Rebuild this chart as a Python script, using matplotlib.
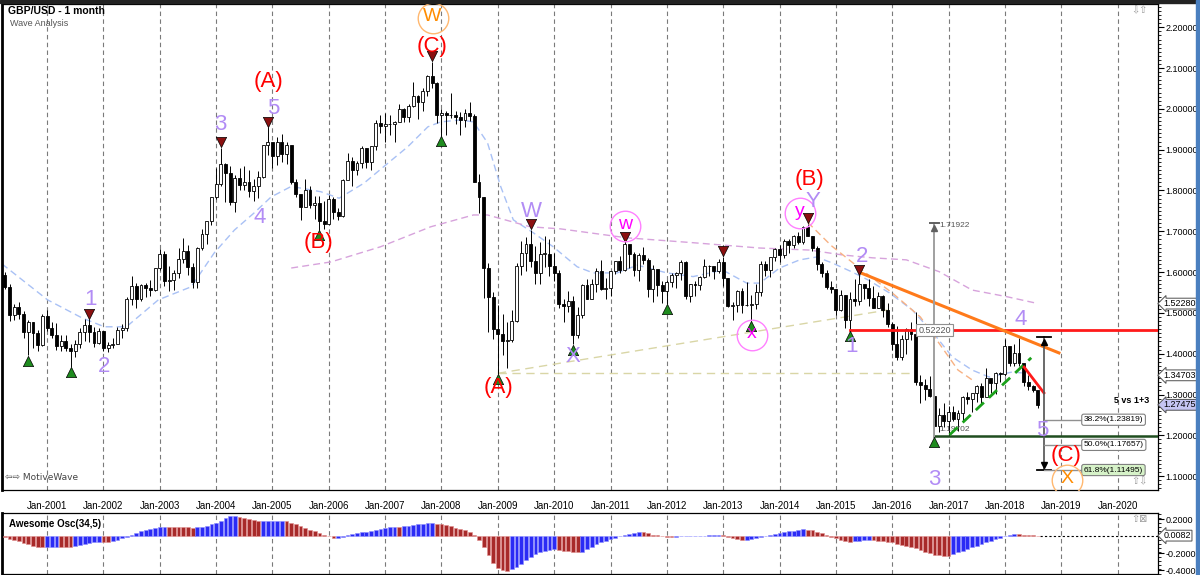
"""GBP/USD monthly wave analysis chart with Awesome Oscillator."""

import matplotlib as mpl
import numpy as np
from matplotlib import pyplot as plt
from matplotlib.patches import Rectangle

mpl.use("Agg")
plt.rcParams["font.family"] = ["Liberation Sans", "DejaVu Sans"]

# monthly candles, Apr-2000 .. Aug-2018 (open = previous close)
FIRST_OPEN = 1.5930
closes = [
    1.5640, 1.4960, 1.5150, 1.4970, 1.4530, 1.4780, 1.4510, 1.4210, 1.4930,
    1.4640, 1.4460, 1.4180, 1.4300, 1.4150, 1.4070, 1.4230, 1.4530, 1.4700, 1.4540, 1.4260, 1.4550,
    1.4130, 1.4220, 1.4240, 1.4580, 1.4640, 1.5350, 1.5670, 1.5350, 1.5690, 1.5620, 1.5560, 1.6100,
    1.6450, 1.5780, 1.5800, 1.5970, 1.6330, 1.6510, 1.6130, 1.5760, 1.6600, 1.6940, 1.7240, 1.7850,
    1.8170, 1.8640, 1.8440, 1.7720, 1.8310, 1.8140, 1.8200, 1.7990, 1.8100, 1.8340, 1.9110, 1.9180,
    1.8840, 1.9200, 1.8890, 1.9110, 1.8220, 1.7920, 1.7590, 1.8020, 1.7650, 1.7700, 1.7250, 1.7180,
    1.7790, 1.7480, 1.7370, 1.8250, 1.8730, 1.8490, 1.8680, 1.9040, 1.8710, 1.9090, 1.9660, 1.9580,
    1.9620, 1.9620, 1.9680, 1.9990, 1.9790, 2.0080, 2.0320, 2.0160, 2.0450, 2.0800, 2.0640, 1.9850,
    1.9890, 1.9860, 1.9840, 1.9810, 1.9730, 1.9910, 1.9830, 1.8220, 1.7840, 1.6110, 1.5390, 1.4600,
    1.4490, 1.4320, 1.4330, 1.4800, 1.6150, 1.6460, 1.6700, 1.6280, 1.5990, 1.6450, 1.6450, 1.6150,
    1.5980, 1.5220, 1.5180, 1.5300, 1.4460, 1.4950, 1.5690, 1.5350, 1.5710, 1.6020, 1.5580, 1.5610,
    1.6020, 1.6260, 1.6050, 1.6700, 1.6450, 1.6050, 1.6430, 1.6300, 1.5590, 1.6070, 1.5690, 1.5540,
    1.5750, 1.5920, 1.5990, 1.6240, 1.5410, 1.5700, 1.5680, 1.5870, 1.6150, 1.6140, 1.6020, 1.6250,
    1.5860, 1.5170, 1.5190, 1.5530, 1.5190, 1.5200, 1.5210, 1.5500, 1.6190, 1.6040, 1.6370, 1.6560,
    1.6430, 1.6750, 1.6660, 1.6880, 1.6740, 1.7110, 1.6880, 1.6590, 1.6210, 1.5990, 1.5640, 1.5580,
    1.5070, 1.5430, 1.4830, 1.5350, 1.5280, 1.5720, 1.5620, 1.5370, 1.5130, 1.5420, 1.5060, 1.4740,
    1.4250, 1.3920, 1.4370, 1.4610, 1.4490, 1.3310, 1.3230, 1.3130, 1.2970, 1.2230, 1.2490, 1.2340,
    1.2580, 1.2410, 1.2550, 1.2940, 1.2890, 1.3030, 1.3200, 1.2930, 1.3400, 1.3280, 1.3520, 1.3510,
    1.4190, 1.3770, 1.4020, 1.3770, 1.3300, 1.3200, 1.3120, 1.27475,
]
highs = [
    1.6000, 1.5720, 1.5220, 1.5270, 1.5050, 1.4830, 1.4780, 1.4580, 1.4980,
    1.5080, 1.4780, 1.4750, 1.4450, 1.4450, 1.4230, 1.4340, 1.4640, 1.4840, 1.4850, 1.4660, 1.4630,
    1.4560, 1.4290, 1.4390, 1.4650, 1.4740, 1.5380, 1.5900, 1.5730, 1.5720, 1.5730, 1.5810, 1.6110,
    1.6560, 1.6510, 1.6140, 1.6040, 1.6580, 1.6840, 1.6660, 1.6220, 1.6620, 1.7060, 1.7260, 1.7850,
    1.8560, 1.9050, 1.8680, 1.8600, 1.8390, 1.8540, 1.8600, 1.8500, 1.8270, 1.8480, 1.9110, 1.9550,
    1.9160, 1.9300, 1.9390, 1.9200, 1.9060, 1.8280, 1.7830, 1.8280, 1.8120, 1.7860, 1.7860, 1.7750,
    1.7890, 1.7840, 1.7560, 1.8270, 1.8920, 1.8820, 1.8720, 1.9090, 1.9050, 1.9100, 1.9730, 1.9850,
    1.9890, 1.9850, 1.9700, 2.0120, 2.0010, 2.0120, 2.0660, 2.0330, 2.0510, 2.0820, 2.1160, 2.0650,
    1.9990, 1.9950, 2.0400, 1.9960, 1.9920, 1.9990, 2.0160, 1.9870, 1.8400, 1.7850, 1.6230, 1.5500,
    1.5200, 1.4980, 1.4780, 1.5080, 1.6220, 1.6750, 1.6870, 1.7040, 1.6630, 1.6740, 1.6880, 1.6800,
    1.6460, 1.6060, 1.5350, 1.5530, 1.5420, 1.5140, 1.5710, 1.5820, 1.5840, 1.6090, 1.6300, 1.5850,
    1.6030, 1.6280, 1.6400, 1.6740, 1.6620, 1.6490, 1.6470, 1.6620, 1.6350, 1.6170, 1.6050, 1.5780,
    1.5800, 1.5990, 1.6010, 1.6300, 1.6280, 1.5700, 1.5780, 1.5910, 1.6310, 1.6180, 1.6080, 1.6310,
    1.6380, 1.5860, 1.5260, 1.5560, 1.5610, 1.5750, 1.5450, 1.5720, 1.6260, 1.6260, 1.6380, 1.6600,
    1.6660, 1.6820, 1.6820, 1.6920, 1.6990, 1.7130, 1.7190, 1.6880, 1.6650, 1.6250, 1.6040, 1.5790,
    1.5590, 1.5550, 1.5450, 1.5500, 1.5820, 1.5930, 1.5690, 1.5820, 1.5660, 1.5510, 1.5430, 1.5240,
    1.4780, 1.4670, 1.4460, 1.4630, 1.4770, 1.5020, 1.3480, 1.3370, 1.3450, 1.3060, 1.2680, 1.2780,
    1.2710, 1.2710, 1.2610, 1.2960, 1.3050, 1.3020, 1.3240, 1.3270, 1.3660, 1.3340, 1.3540, 1.3550,
    1.4350, 1.4140, 1.4240, 1.4380, 1.3620, 1.3480, 1.3240, 1.3050,
]
lows = [
    1.5580, 1.4800, 1.4830, 1.4840, 1.4390, 1.3960, 1.4140, 1.4060, 1.4200,
    1.4560, 1.4380, 1.4100, 1.4070, 1.4060, 1.3680, 1.3930, 1.4140, 1.4320, 1.4280, 1.4160, 1.4240,
    1.4070, 1.4050, 1.4130, 1.4230, 1.4380, 1.4560, 1.5200, 1.5110, 1.5280, 1.5400, 1.5420, 1.5530,
    1.6060, 1.5660, 1.5530, 1.5560, 1.5850, 1.6220, 1.5940, 1.5620, 1.5600, 1.6550, 1.6680, 1.7160,
    1.7780, 1.8120, 1.7710, 1.7650, 1.7480, 1.8010, 1.8020, 1.7850, 1.7750, 1.7810, 1.8300, 1.8880,
    1.8540, 1.8630, 1.8700, 1.8660, 1.8160, 1.7840, 1.7270, 1.7620, 1.7560, 1.7310, 1.7040, 1.7060,
    1.7170, 1.7290, 1.7270, 1.7360, 1.8280, 1.8120, 1.8370, 1.8540, 1.8550, 1.8510, 1.8990, 1.9420,
    1.9200, 1.9350, 1.9190, 1.9710, 1.9670, 1.9680, 2.0040, 1.9740, 1.9960, 2.0320, 2.0520, 1.9660,
    1.9340, 1.9370, 1.9770, 1.9630, 1.9360, 1.9550, 1.9700, 1.8200, 1.7440, 1.5370, 1.4530, 1.4360,
    1.3500, 1.3970, 1.3660, 1.4290, 1.4780, 1.5940, 1.6020, 1.6120, 1.5710, 1.5710, 1.6130, 1.5910,
    1.5770, 1.5120, 1.4780, 1.5030, 1.4230, 1.4380, 1.4880, 1.5350, 1.5340, 1.5520, 1.5560, 1.5330,
    1.5410, 1.5960, 1.5970, 1.6020, 1.6110, 1.5910, 1.5780, 1.6190, 1.5390, 1.5270, 1.5420, 1.5240,
    1.5230, 1.5640, 1.5600, 1.5800, 1.5330, 1.5270, 1.5410, 1.5550, 1.5850, 1.5910, 1.5830, 1.5990,
    1.5660, 1.5150, 1.4830, 1.5030, 1.5000, 1.5170, 1.4810, 1.5100, 1.5420, 1.5900, 1.5880, 1.6280,
    1.6250, 1.6340, 1.6480, 1.6590, 1.6690, 1.6690, 1.6880, 1.6520, 1.6050, 1.5880, 1.5590, 1.5480,
    1.4950, 1.5040, 1.4640, 1.4570, 1.5170, 1.5190, 1.5330, 1.5160, 1.5110, 1.5110, 1.4890, 1.4660,
    1.4080, 1.3840, 1.3840, 1.4000, 1.4330, 1.3230, 1.2800, 1.2870, 1.2940, 1.1970, 1.2080, 1.2200,
    1.1990, 1.2350, 1.2110, 1.2370, 1.2760, 1.2580, 1.2810, 1.2770, 1.3180, 1.3030, 1.3010, 1.3300,
    1.3460, 1.3710, 1.3710, 1.3710, 1.3210, 1.3100, 1.3060, 1.2660,
]
# Awesome Oscillator (34,5), same months
ao = [
    -0.010, -0.030, -0.045, -0.060, -0.080, -0.095, -0.110, -0.125, -0.130,
    -0.124, -0.122, -0.120, -0.124, -0.127, -0.130, -0.112, -0.100, -0.088, -0.078, -0.070, -0.064,
    -0.067, -0.070, -0.060, -0.045, -0.025, -0.005, 0.020, 0.040, 0.060, 0.075, 0.088, 0.100,
    0.110, 0.115, 0.112, 0.110, 0.108, 0.106, 0.104, 0.102, 0.106, 0.112, 0.122, 0.140,
    0.155, 0.185, 0.215, 0.235, 0.240, 0.232, 0.220, 0.205, 0.190, 0.177, 0.179, 0.181,
    0.182, 0.183, 0.184, 0.175, 0.160, 0.140, 0.120, 0.100, 0.080, 0.060, 0.040, 0.020,
    0.000, -0.025, -0.020, -0.005, 0.010, 0.025, 0.035, 0.045, 0.055, 0.065, 0.080, 0.090,
    0.100, 0.110, 0.115, 0.112, 0.118, 0.125, 0.135, 0.140, 0.145, 0.152, 0.158, 0.150,
    0.140, 0.130, 0.120, 0.100, 0.085, 0.070, 0.050, 0.010, -0.040, -0.120, -0.220, -0.310,
    -0.370, -0.400, -0.410, -0.390, -0.360, -0.320, -0.280, -0.240, -0.210, -0.190, -0.170, -0.160,
    -0.155, -0.160, -0.170, -0.175, -0.180, -0.190, -0.180, -0.150, -0.120, -0.090, -0.065, -0.050,
    -0.030, -0.015, 0.000, 0.015, 0.030, 0.040, 0.055, 0.045, 0.035, 0.020, 0.010, 0.003,
    -0.003, -0.005, -0.004, -0.002, 0.000, 0.002, 0.004, 0.005, 0.008, 0.012, 0.016, 0.020,
    0.012, -0.005, -0.020, -0.035, -0.045, -0.040, -0.030, -0.020, -0.010, 0.005, 0.020, 0.030,
    0.040, 0.050, 0.060, 0.068, 0.075, 0.085, 0.080, 0.070, 0.055, 0.035, 0.015, -0.005,
    -0.025, -0.040, -0.055, -0.070, -0.060, -0.050, -0.045, -0.040, -0.045, -0.050, -0.055, -0.065,
    -0.070, -0.090, -0.100, -0.110, -0.120, -0.140, -0.160, -0.180, -0.200, -0.215, -0.225, -0.230,
    -0.232, -0.210, -0.190, -0.170, -0.150, -0.130, -0.110, -0.090, -0.070, -0.050, -0.035, -0.015,
    0.005, 0.018, 0.025, 0.022, 0.018, 0.014, 0.010, 0.008,
]
AO_LAST = "0.0082"

# moving averages: (month index, price)
ma_fast = [
    (-0.6, 1.620), (9.1, 1.532), (16.4, 1.488), (21.2, 1.466), (25.9, 1.466), (32.7, 1.532),
    (39.7, 1.564), (44.6, 1.647), (48.9, 1.703), (53.1, 1.745), (56.7, 1.784), (61.0, 1.810),
    (67.3, 1.797), (71.2, 1.781), (76.5, 1.818), (81.6, 1.867), (85.8, 1.907), (90.1, 1.956),
    (92.8, 1.968), (97.1, 1.973), (99.8, 1.968), (102.8, 1.917), (105.6, 1.810), (108.3, 1.728),
    (112.6, 1.696), (116.8, 1.662), (121.9, 1.613), (125.3, 1.598), (130.4, 1.598), (134.7, 1.617),
    (141.0, 1.598), (146.6, 1.589), (152.9, 1.605), (158.0, 1.573), (160.8, 1.573), (165.0, 1.610),
    (169.3, 1.630), (172.9, 1.637), (176.3, 1.622), (180.5, 1.600), (184.0, 1.580), (188.4, 1.549),
    (193.3, 1.507), (198.4, 1.441), (201.8, 1.392), (206.0, 1.360), (209.6, 1.343), (214.5, 1.355),
    (216.6, 1.353),
]
ma_slow = [
    (61.0, 1.610), (69.5, 1.625), (80.0, 1.662), (90.7, 1.711), (99.8, 1.740), (102.8, 1.740),
    (111.9, 1.711), (118.3, 1.706), (132.5, 1.684), (146.6, 1.672), (160.8, 1.659), (171.4, 1.654),
    (178.4, 1.642), (184.8, 1.635), (192.0, 1.630), (199.0, 1.601), (206.0, 1.556), (213.3, 1.540),
    (219.2, 1.525),
]
ma_orange = [
    (171.0, 1.722), (176.0, 1.665), (182.0, 1.610), (186.0, 1.575), (189.0, 1.549), (195.0, 1.490),
    (199.5, 1.417), (203.0, 1.360), (206.0, 1.336),
]
SLOW_LAST = 1.52280
PREV_CLOSE_LEVEL = 1.34703

# wave labels: (text, month index, price, colour)
PURPLE = "#b28cf5"
wave_labels = [
    ("1", 18.3, 1.532, PURPLE), ("2", 21.2, 1.368, PURPLE), ("3", 45.9, 1.961, PURPLE),
    ("4", 54.2, 1.735, PURPLE), ("5", 57.2, 2.000, PURPLE), ("W", 112.1, 1.748, PURPLE),
    ("X", 121.1, 1.392, PURPLE), ("Y", 172.2, 1.772, PURPLE), ("1", 180.3, 1.417, PURPLE),
    ("2", 182.5, 1.637, PURPLE), ("3", 198.0, 1.091, PURPLE), ("4", 216.4, 1.483, PURPLE),
    ("5", 220.9, 1.211, PURPLE),
    ("(A)", 56.2, 2.066, "red"), ("(B)", 66.9, 1.672, "red"), ("(C)", 91.1, 2.152, "red"),
    ("(A)", 105.1, 1.316, "red"), ("(B)", 171.4, 1.828, "red"), ("(C)", 226.0, 1.150, "red"),
]
circled_labels = [
    ("W", 91.1, 2.223, "#ff8c00", "#ffb870"), ("X", 226.2, 1.091, "#ff8c00", "#ffb870"),
    ("w", 132.1, 1.713, "#ff00ff", "#ff80ff"), ("x", 159.1, 1.446, "#ff00ff", "#ff80ff"),
    ("y", 169.3, 1.745, "#ff00ff", "#ff80ff"),
]
swing_lows = [5, 14, 67, 93, 105, 121, 141, 159, 180, 198]
swing_highs = [18, 46, 56, 91, 112, 132, 153, 171, 182]

# drawn tools: ((x0, y0), (x1, y1))
support_line = ((180.0, 1.458), (246.0, 1.458))
low_line = ((198.0, 1.199), (246.0, 1.199))
resistance_line = ((182.3, 1.598), (224.5, 1.402))
channel_line = ((201.2, 1.201), (218.6, 1.390))
short_down_line = ((217.1, 1.367), (221.3, 1.304))
flat_dash = ((105.0, 1.352), (193.3, 1.352))
rise_dash = ((105.0, 1.352), (188.0, 1.507))
measure_top, measure_bottom, measure_size = 1.71922, 1.19702, "0.52220"
fib_levels = [("38.2%(1.23819)", 1.23819, "white"), ("50.0%(1.17657)", 1.17657, "white"),
              ("61.8%(1.11495)", 1.11495, "#d6f2c8")]
projection_top, projection_bottom = 1.440, 1.115

years = list(range(2001, 2021))


def main() -> None:
    fig = plt.figure(figsize=(12, 5.75), dpi=100)
    ax = fig.add_axes([0.0015, 1 - 490 / 575, 1158 / 1200 - 0.0015, 486 / 575])
    osc = fig.add_axes([0.0015, 1 / 575, 1158 / 1200 - 0.0015, 61 / 575], sharex=ax)

    c = np.array(closes)
    o = np.concatenate([[FIRST_OPEN], c[:-1]])
    x = np.arange(len(c))
    up = c >= o
    ax.vlines(x, lows, highs, color="black", lw=0.7, zorder=3)
    body = np.maximum(np.abs(c - o), 0.0015)
    ax.bar(x, body, bottom=np.minimum(o, c), width=0.62,
           color=np.where(up, "white", "black"), edgecolor="black", lw=0.6, zorder=4)

    for pts, col in ((ma_fast, "#a9c1f5"), (ma_slow, "#d7a3dc"), (ma_orange, "#f7b183")):
        px, py = zip(*pts)
        ax.plot(px, py, color=col, lw=1.0, ls=(0, (5, 3)), zorder=2)

    for (x0, y0), (x1, y1) in (flat_dash, rise_dash):
        ax.plot([x0, x1], [y0, y1], color="#d9d6a6", lw=1.0, ls=(0, (6, 4)), zorder=2)

    ax.plot(*zip(*support_line), color="#ff1a1a", lw=2.0, zorder=5)
    ax.plot(*zip(*low_line), color="#1f4d1f", lw=1.8, zorder=5)
    ax.plot(*zip(*resistance_line), color="#ff7a1a", lw=2.2, zorder=5)
    ax.plot(*zip(*channel_line), color="#1aa01a", lw=2.0, ls=(0, (4, 2.5)), zorder=5)
    ax.plot(*zip(*short_down_line), color="#ff1a1a", lw=2.0, zorder=5)

    # swing markers
    ax.scatter(swing_lows, np.array(lows)[swing_lows] - 0.013, marker="^", s=55,
               color="#1f8c1f", edgecolor="black", lw=0.5, zorder=6)
    ax.scatter(swing_highs, np.array(highs)[swing_highs] + 0.013, marker="v", s=55,
               color="#8b1010", edgecolor="black", lw=0.5, zorder=6)

    # measurement of wave 1-3
    mx = 198.0
    ax.plot([mx, mx], [measure_bottom, measure_top], color="#a0a0a0", lw=1.4, zorder=5)
    ax.plot([mx - 1.0, mx + 1.0], [measure_top, measure_top], color="#606060", lw=1.4, zorder=5)
    ax.plot(mx, measure_top - 0.01, marker="^", ms=5, color="#606060", zorder=5)
    ax.text(mx + 1.0, measure_top - 0.005, f"{measure_top:.5f}", fontsize=6, color="#555555",
            va="center", ha="left")
    ax.text(mx + 1.0, measure_bottom + 0.018, f"{measure_bottom:.5f}", fontsize=6,
            color="#555555", va="center", ha="left")
    ax.text(mx, support_line[0][1], measure_size, fontsize=6.5, color="#555555", ha="center",
            va="center", zorder=7,
            bbox={"boxstyle": "square,pad=0.2", "fc": "white", "ec": "#909090", "lw": 0.8})

    # projection and fib targets
    px0 = 221.3
    ax.plot([px0, px0], [projection_bottom, projection_top], color="#505050", lw=1.2, zorder=5)
    for yv in (projection_top, projection_bottom):
        ax.plot([px0 - 1.5, px0 + 1.5], [yv, yv], color="black", lw=1.3, zorder=5)
    ax.plot(px0, projection_top - 0.012, marker="^", ms=5, color="black", zorder=5)
    ax.plot(px0, projection_bottom + 0.012, marker="v", ms=5, color="black", zorder=5)
    for text, level, face in fib_levels:
        ax.plot([px0, 229.5], [level, level], color="#909090", lw=1.0, zorder=5)
        ax.text(229.8, level, text, fontsize=6, ha="left", va="center", zorder=7,
                bbox={"boxstyle": "round,pad=0.25", "fc": face, "ec": "#808080", "lw": 0.8})
    ax.text(240.0, 1.286, "5 vs 1+3", fontsize=6.5, fontweight="bold", ha="center",
            va="center")

    for text, xi, yi, col in wave_labels:
        ax.text(xi, yi, text, fontsize=16, color=col, ha="center", va="center", zorder=8)
    for text, xi, yi, col, ring in circled_labels:
        ax.plot(xi, yi, marker="o", ms=22, mfc="none", mec=ring, mew=1.0, zorder=7)
        ax.text(xi, yi + 0.004, text, fontsize=14, color=col, ha="center", va="center",
                zorder=8)

    ax.set_xlim(-0.64, 245.6)
    ax.set_ylim(1.066, 2.257)
    jan = [(y - 2000) * 12 - 3 for y in years]
    ax.set_xticks(jan)
    ax.set_xticklabels([f"Jan-{y}" for y in years], fontsize=7)
    ax.tick_params(axis="x", length=0, pad=8)
    ax.grid(axis="x", color="#7a7a7a", lw=0.8, ls=(0, (4, 3)))
    ax.set_axisbelow(True)
    ax.yaxis.tick_right()
    ax.set_yticks(np.arange(1.1, 2.21, 0.1))
    ax.set_yticks(np.arange(1.07, 2.26, 0.01), minor=True)
    ax.yaxis.set_major_formatter(mpl.ticker.FormatStrFormatter("%.5f"))
    ax.tick_params(axis="y", labelsize=6.5, length=4, pad=1.5, direction="out")
    ax.tick_params(axis="y", which="minor", length=2)

    box = {"boxstyle": "larrow,pad=0.1", "ec": "#505050", "lw": 0.7}
    for level, text, face in ((SLOW_LAST, "1.52280", "white"),
                              (PREV_CLOSE_LEVEL, "1.34703", "white"),
                              (closes[-1], "1.27475", "#c5c5f2")):
        ax.annotate(text, xy=(1.0, level), xycoords=("axes fraction", "data"),
                    xytext=(4, 0), textcoords="offset points", fontsize=6.5, va="center",
                    ha="left", annotation_clip=False, zorder=9, bbox={**box, "fc": face})

    fig.text(8 / 1200, 1 - 11 / 575, "GBP/USD - 1 month", fontsize=7.5, fontweight="bold",
             va="center")
    fig.text(10 / 1200, 1 - 23 / 575, "Wave Analysis", fontsize=6.5, color="#555555",
             va="center")
    fig.text(5 / 1200, 1 - 478 / 575, "⇦⇨ MotiveWave", fontsize=6.5, color="#444444",
             va="center", family=["DejaVu Sans"])
    fig.text(1131 / 1200, 1 - 10 / 575, "⇩⇧", fontsize=7, color="#999999", va="center",
             family=["DejaVu Sans"])
    fig.text(1131 / 1200, 1 - 481 / 575, "⇧⇩", fontsize=7, color="#999999", va="center",
             family=["DejaVu Sans"])

    # oscillator
    a = np.array(ao)
    rising = np.concatenate([[False], a[1:] > a[:-1]])
    osc.bar(x, a, width=0.8, color=np.where(rising, "#2b2bf5", "#a82a2a"),
            edgecolor=np.where(rising, "#8c8cff", "#e08c8c"), lw=0.4, zorder=3)
    osc.plot([x[-1] + 0.5, 246], [a[-1], a[-1]], color="black", lw=0.8, ls=(0, (2, 2)))
    osc.set_ylim(-0.443, 0.274)
    osc.grid(axis="x", color="#7a7a7a", lw=0.8, ls=(0, (4, 3)))
    osc.set_axisbelow(True)
    osc.tick_params(axis="x", length=0, labelbottom=False)
    osc.yaxis.tick_right()
    osc.set_yticks([0.2, -0.2, -0.4])
    osc.set_yticks(np.arange(-0.44, 0.27, 0.05), minor=True)
    osc.yaxis.set_major_formatter(mpl.ticker.FormatStrFormatter("%.4f"))
    osc.tick_params(axis="y", labelsize=6.5, length=4, pad=1.5)
    osc.tick_params(axis="y", which="minor", length=2)
    osc.annotate(AO_LAST, xy=(1.0, a[-1]), xycoords=("axes fraction", "data"),
                 xytext=(4, 0), textcoords="offset points", fontsize=6.5, va="center",
                 ha="left", annotation_clip=False, bbox={**box, "fc": "white"})
    osc.text(0.006, 0.82, "Awesome Osc(34,5)", transform=osc.transAxes, fontsize=7,
             fontweight="bold", va="center")
    fig.text(1131 / 1200, 1 - 519 / 575, "⇧⊠", fontsize=7, color="#999999", va="center",
             family=["DejaVu Sans"])

    for axis in (ax, osc):
        for side in axis.spines.values():
            side.set_color("black")
            side.set_linewidth(0.9)
        axis.spines["left"].set_linewidth(2.0)

    fig.patches.append(Rectangle((0, 1 - 3 / 575), 1, 3 / 575, transform=fig.transFigure,
                                 color="#222222", zorder=10))
    fig.patches.append(Rectangle((1196 / 1200, 0), 4 / 1200, 1, transform=fig.transFigure,
                                 color="#4a7fbf", zorder=10))

    fig.savefig("out.png", dpi=100)
    plt.close(fig)


main()
